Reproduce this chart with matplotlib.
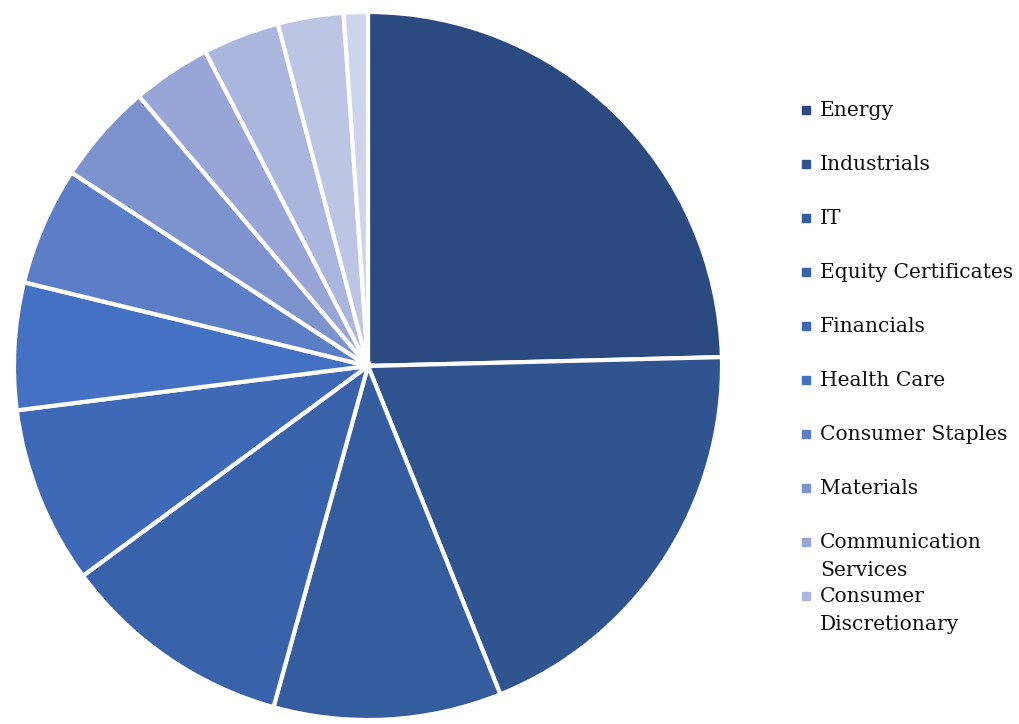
import matplotlib.pyplot as plt
from matplotlib.patches import Rectangle

sectors = ['Energy', 'Industrials', 'IT', 'Equity Certificates', 'Financials',
           'Health Care', 'Consumer Staples', 'Materials',
           'Communication\nServices', 'Consumer\nDiscretionary',
           'Real Estate', 'Utilities']
weights = [24.6, 19.3, 10.4, 10.6, 8.1, 5.8, 5.4, 4.6, 3.6, 3.5, 3.0, 1.1]
colors = ['#2B4A80', '#30548F', '#355C9F', '#3962AA', '#3E69B6', '#4471C2',
          '#5B7EC6', '#7C93CD', '#97A6D6', '#ABB6DE', '#BCC5E4', '#CDD4EB']

W, H = 1019, 724
fig = plt.figure(figsize=(W / 100, H / 100), dpi=100)
ax = fig.add_axes([14 / W, 4 / H, 708 / W, 708 / H])

wedges, _ = ax.pie(weights, colors=colors, startangle=90, counterclock=False,
                   wedgeprops=dict(edgecolor='white', linewidth=3))
ax.set_xlim(-1.0, 1.0)
ax.set_ylim(-1.0, 1.0)
ax.set_aspect('equal')

# legend drawn by hand so entries keep a fixed pitch (first 10 sectors only)
top, pitch = 110, 54
for i in range(10):
    y = 1 - (top + pitch * i) / H
    fig.add_artist(Rectangle((802 / W, y - 4 / H), 8 / W, 8 / H,
                             transform=fig.transFigure, color=colors[i]))
    fig.text(820 / W, y + 9 / H, sectors[i], va='top', ha='left',
             family='DejaVu Serif', fontsize=14.6, linespacing=1.6,
             color='#111111')

fig.savefig('out.png', dpi=100)
